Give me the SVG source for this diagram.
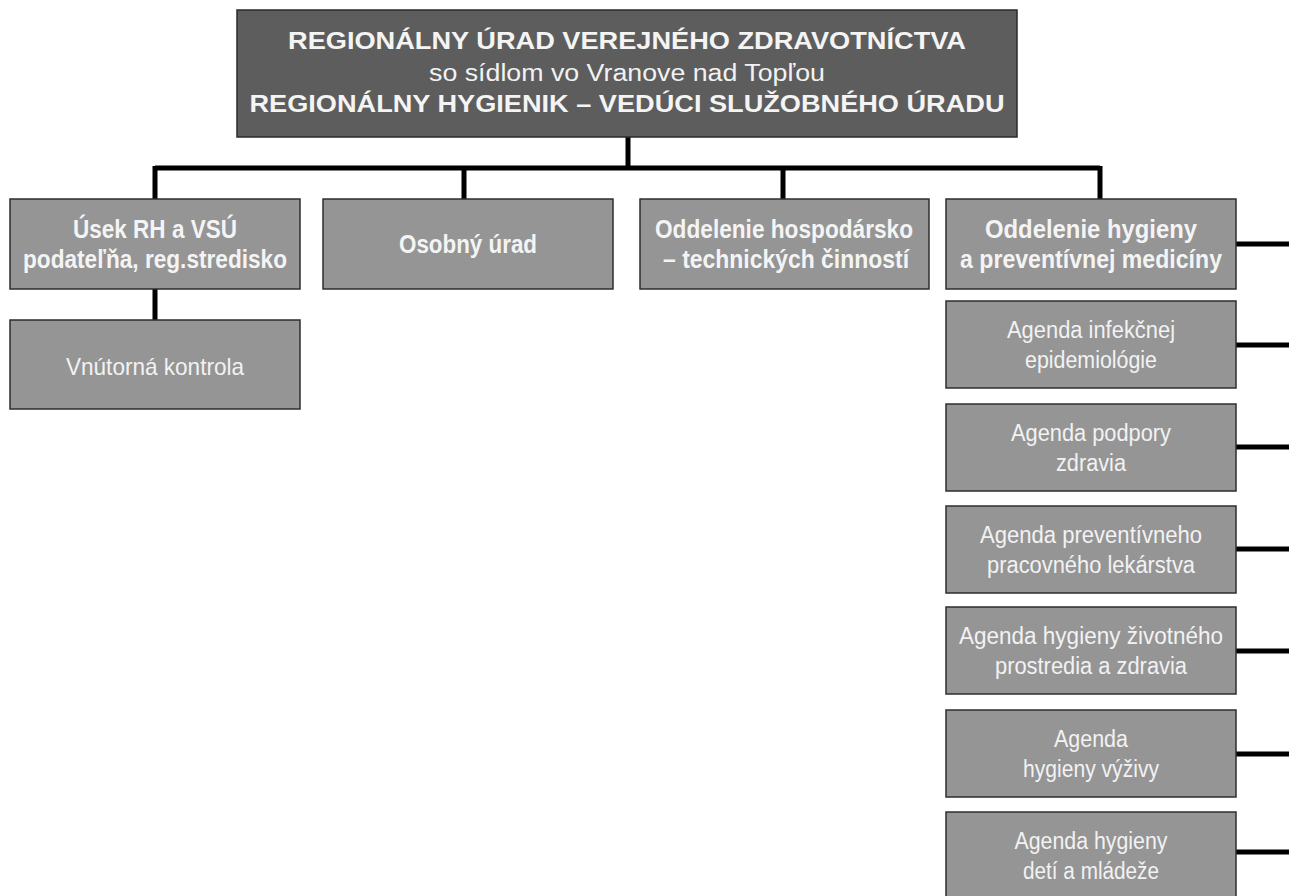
<svg xmlns="http://www.w3.org/2000/svg" width="1289" height="896" viewBox="0 0 1289 896">
<style>
.top{fill:#5d5d5d;stroke:#2a2a2a;stroke-width:1.5}
.box{fill:#959595;stroke:#2e2e2e;stroke-width:1.5}
.b{font-family:"Liberation Sans",Arial,sans-serif;font-weight:bold;fill:#f4f4f4;text-anchor:middle}
.r{font-family:"Liberation Sans",Arial,sans-serif;fill:#f2f2f2;text-anchor:middle}
.ln{stroke:#000;stroke-width:5;fill:none}
</style>
<rect width="1289" height="896" fill="#fff"/>
<g id="connectors">
<path class="ln" d="M628 137V168M155 168H1100M155 166V199M464 166V199M783 166V199M1100 166V199M155 289V320"/>
<path class="ln" d="M1236 244H1289M1236 345H1289M1236 447H1289M1236 549H1289M1236 651H1289M1236 754H1289M1236 852H1289"/>
</g>
<g id="n-top">
<rect class="top" x="237" y="10" width="780" height="127"/>
<text class="b" x="627" y="49" font-size="24" textLength="678" lengthAdjust="spacingAndGlyphs">REGIONÁLNY ÚRAD VEREJNÉHO ZDRAVOTNÍCTVA</text>
<text class="r" x="627" y="81" font-size="23" textLength="396" lengthAdjust="spacingAndGlyphs">so sídlom vo Vranove nad Topľou</text>
<text class="b" x="627" y="112" font-size="24" textLength="755" lengthAdjust="spacingAndGlyphs">REGIONÁLNY HYGIENIK – VEDÚCI SLUŽOBNÉHO ÚRADU</text>
</g>
<g id="n-usek">
<rect class="box" x="10" y="199" width="290" height="90"/>
<text class="b" x="155" y="238" font-size="25" textLength="164" lengthAdjust="spacingAndGlyphs">Úsek RH a VSÚ</text>
<text class="b" x="155" y="268" font-size="25" textLength="264" lengthAdjust="spacingAndGlyphs">podateľňa, reg.stredisko</text>
</g>
<g id="n-osobny">
<rect class="box" x="323" y="199" width="290" height="90"/>
<text class="b" x="468" y="253" font-size="25" textLength="138" lengthAdjust="spacingAndGlyphs">Osobný úrad</text>
</g>
<g id="n-hosp">
<rect class="box" x="640" y="199" width="289" height="90"/>
<text class="b" x="784" y="238" font-size="25" textLength="258" lengthAdjust="spacingAndGlyphs">Oddelenie hospodársko</text>
<text class="b" x="786" y="268" font-size="25" textLength="246" lengthAdjust="spacingAndGlyphs">– technických činností</text>
</g>
<g id="n-hyg">
<rect class="box" x="946" y="199" width="290" height="90"/>
<text class="b" x="1091" y="238" font-size="25" textLength="212" lengthAdjust="spacingAndGlyphs">Oddelenie hygieny</text>
<text class="b" x="1091" y="268" font-size="25" textLength="262" lengthAdjust="spacingAndGlyphs">a preventívnej medicíny</text>
</g>
<g id="n-vnut">
<rect class="box" x="10" y="320" width="290" height="89"/>
<text class="r" x="155" y="375" font-size="24" textLength="178" lengthAdjust="spacingAndGlyphs">Vnútorná kontrola</text>
</g>
<g id="n-a1">
<rect class="box" x="946" y="301" width="290" height="87"/>
<text class="r" x="1091" y="338" font-size="23" textLength="168" lengthAdjust="spacingAndGlyphs">Agenda infekčnej</text>
<text class="r" x="1091" y="368" font-size="23" textLength="132" lengthAdjust="spacingAndGlyphs">epidemiológie</text>
</g>
<g id="n-a2">
<rect class="box" x="946" y="404" width="290" height="87"/>
<text class="r" x="1091" y="441" font-size="23" textLength="160" lengthAdjust="spacingAndGlyphs">Agenda podpory</text>
<text class="r" x="1091" y="471" font-size="23" textLength="70" lengthAdjust="spacingAndGlyphs">zdravia</text>
</g>
<g id="n-a3">
<rect class="box" x="946" y="506" width="290" height="87"/>
<text class="r" x="1091" y="543" font-size="23" textLength="222" lengthAdjust="spacingAndGlyphs">Agenda preventívneho</text>
<text class="r" x="1091" y="573" font-size="23" textLength="208" lengthAdjust="spacingAndGlyphs">pracovného lekárstva</text>
</g>
<g id="n-a4">
<rect class="box" x="946" y="607" width="290" height="87"/>
<text class="r" x="1091" y="644" font-size="23" textLength="264" lengthAdjust="spacingAndGlyphs">Agenda hygieny životného</text>
<text class="r" x="1091" y="674" font-size="23" textLength="192" lengthAdjust="spacingAndGlyphs">prostredia a zdravia</text>
</g>
<g id="n-a5">
<rect class="box" x="946" y="710" width="290" height="87"/>
<text class="r" x="1091" y="747" font-size="23" textLength="74" lengthAdjust="spacingAndGlyphs">Agenda</text>
<text class="r" x="1091" y="777" font-size="23" textLength="136" lengthAdjust="spacingAndGlyphs">hygieny výživy</text>
</g>
<g id="n-a6">
<rect class="box" x="946" y="812" width="290" height="87"/>
<text class="r" x="1091" y="849" font-size="23" textLength="153" lengthAdjust="spacingAndGlyphs">Agenda hygieny</text>
<text class="r" x="1091" y="879" font-size="23" textLength="136" lengthAdjust="spacingAndGlyphs">detí a mládeže</text>
</g>
</svg>
